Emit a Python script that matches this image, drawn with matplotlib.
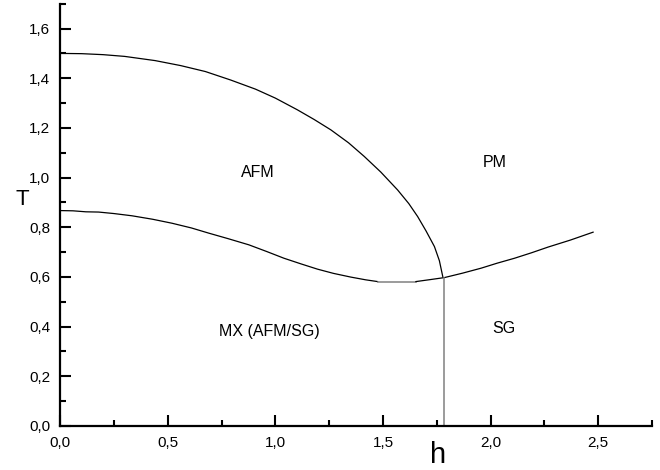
import matplotlib
matplotlib.use("Agg")
import matplotlib.pyplot as plt
from matplotlib.ticker import MultipleLocator, FuncFormatter

plt.rcParams['font.family'] = ['Liberation Sans', 'DejaVu Sans']

# AFM / PM boundary
h_afm = [0.0, 0.1, 0.2, 0.3, 0.442, 0.56, 0.675, 0.792, 0.908, 1.0, 1.102, 1.18,
         1.258, 1.34, 1.413, 1.49, 1.568, 1.62, 1.661, 1.70, 1.739, 1.762, 1.778]
T_afm = [1.500, 1.499, 1.495, 1.488, 1.471, 1.451, 1.427, 1.393, 1.356, 1.320, 1.273, 1.234,
         1.192, 1.140, 1.085, 1.022, 0.950, 0.895, 0.843, 0.785, 0.722, 0.665, 0.600]

# MX / AFM boundary
h_mx = [0.0, 0.06, 0.12, 0.179, 0.25, 0.334, 0.43, 0.52, 0.61, 0.691, 0.78, 0.877,
        0.96, 1.04, 1.12, 1.196, 1.27, 1.351, 1.42, 1.475]
T_mx = [0.867, 0.866, 0.862, 0.861, 0.855, 0.846, 0.832, 0.816, 0.797, 0.776, 0.754, 0.729,
        0.702, 0.675, 0.652, 0.631, 0.614, 0.599, 0.588, 0.581]

# flat part (grey)
h_flat = [1.475, 1.653]
T_flat = [0.581, 0.581]

# from the flat part through the triple point to SG / PM boundary
h_sg = [1.653, 1.72, 1.785, 1.87, 1.956, 2.03, 2.111, 2.19, 2.267, 2.37, 2.476]
T_sg = [0.581, 0.589, 0.597, 0.615, 0.635, 0.655, 0.675, 0.697, 0.720, 0.748, 0.780]

# MX / SG boundary
h_vert = [1.782, 1.782]
T_vert = [0.0, 0.597]

labels = ['AFM', 'PM', 'MX (AFM/SG)', 'SG']
label_h = [0.92, 2.02, 0.97, 2.06]
label_T = [1.02, 1.06, 0.38, 0.39]

fig = plt.figure(figsize=(6.6, 4.7), dpi=100)
ax = fig.add_axes([0.091, 0.094, 0.897, 0.898])

ax.plot(h_afm, T_afm, color='black', lw=0.9)
ax.plot(h_mx, T_mx, color='black', lw=0.9)
ax.plot(h_flat, T_flat, color='#808080', lw=1.1)
ax.plot(h_sg, T_sg, color='black', lw=0.9)
ax.plot(h_vert, T_vert, color='#808080', lw=1.1)

for s, x, y in zip(labels, label_h, label_T):
    ax.text(x, y, s, ha='center', va='center', fontsize=11.5)

ax.set_xlim(0, 2.75)
ax.set_ylim(0, 1.70)

for side in ['top', 'right']:
    ax.spines[side].set_visible(False)
for side in ['left', 'bottom']:
    ax.spines[side].set_linewidth(1.6)

ax.xaxis.set_major_locator(MultipleLocator(0.5))
ax.xaxis.set_minor_locator(MultipleLocator(0.25))
ax.yaxis.set_major_locator(MultipleLocator(0.2))
ax.yaxis.set_minor_locator(MultipleLocator(0.1))
comma = FuncFormatter(lambda v, p: ('%.1f' % v).replace('.', ','))
ax.xaxis.set_major_formatter(comma)
ax.yaxis.set_major_formatter(comma)
ax.tick_params(which='major', direction='in', length=8, width=1.5, labelsize=11, pad=7)
ax.tick_params(which='minor', direction='in', length=4, width=1.5)

ax.set_xlabel('h', fontsize=21)
ax.xaxis.set_label_coords(0.639, -0.036)
ax.set_ylabel('T', fontsize=16, rotation=0)
ax.yaxis.set_label_coords(-0.064, 0.512)

fig.savefig('out.png', dpi=100)
